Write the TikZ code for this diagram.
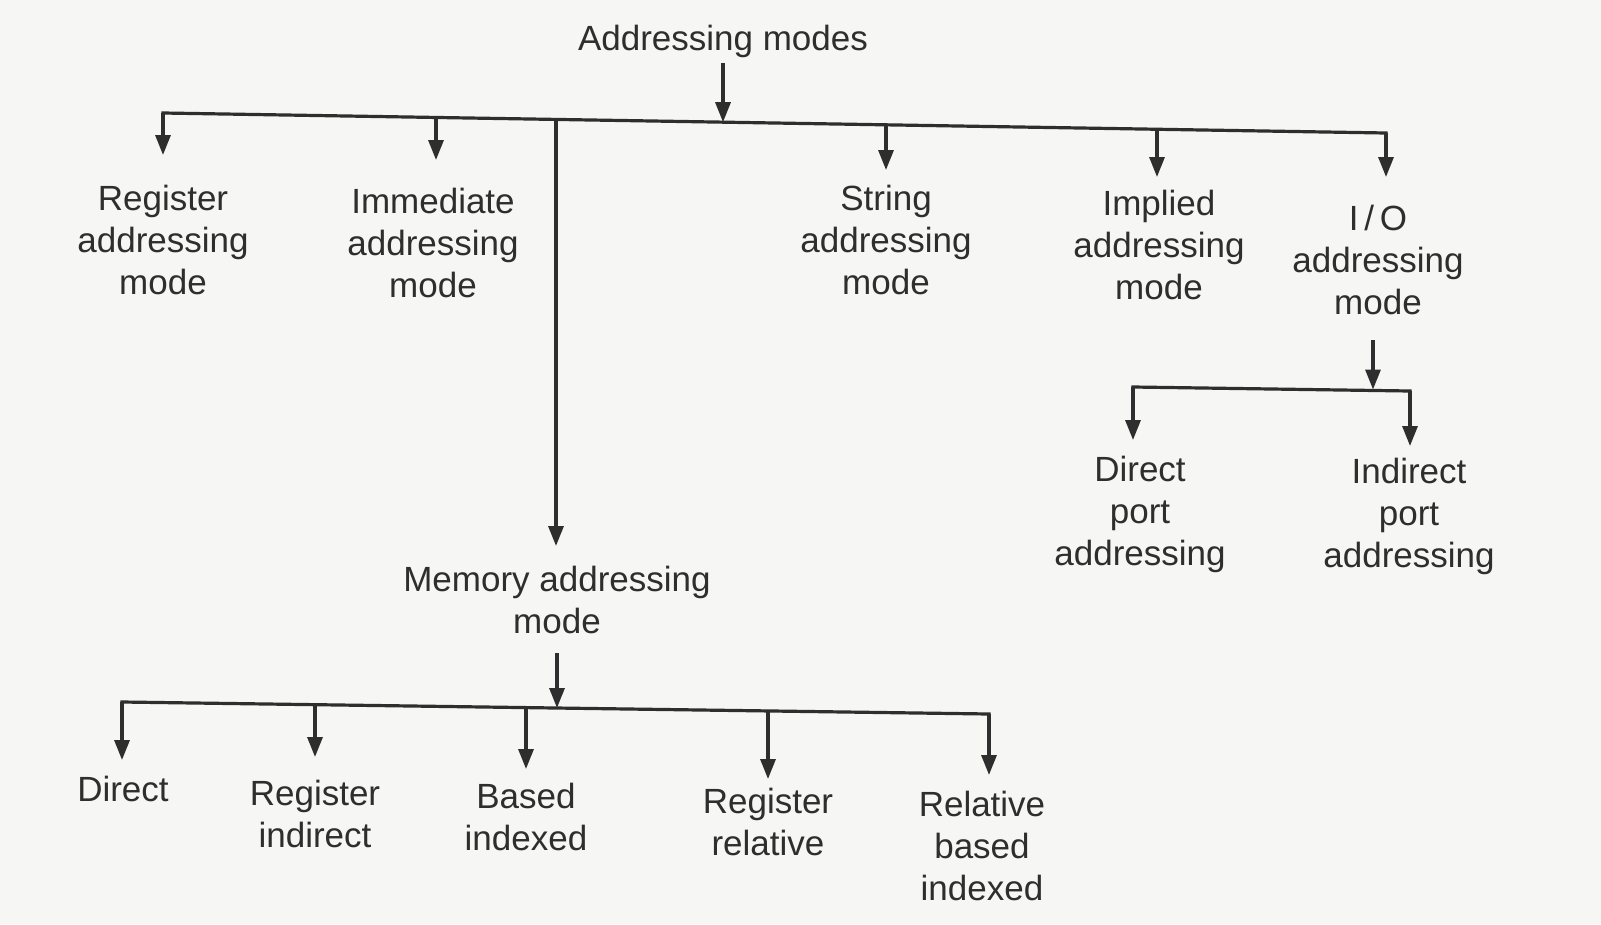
\documentclass[tikz,border=0pt]{standalone}
\usepackage{fontspec}
\setmainfont{Liberation Sans}
\usetikzlibrary{arrows.meta}
\definecolor{paper}{HTML}{F6F6F4}
\definecolor{ink}{HTML}{2E2E2E}
\begin{document}
\begin{tikzpicture}[x=1pt,y=-1pt,
  lbl/.style={align=center,inner sep=0pt,text=ink,font=\fontsize{35}{42}\selectfont},
  conn/.style={draw=ink,line width=3.2pt},
  arr/.style={conn,-{Triangle[length=20pt,width=15pt]}}]
\fill[paper] (0,0) rectangle (1601,924);
\useasboundingbox (0,0) rectangle (1601,924);
% labels
\node[lbl] (root) at (723,41) {Addressing modes};
\node[lbl] (reg) at (163,240) {Register\\addressing\\mode};
\node[lbl] (imm) at (433,243) {Immediate\\addressing\\mode};
\node[lbl] (str) at (886,240) {String\\addressing\\mode};
\node[lbl] (imp) at (1159,245) {Implied\\addressing\\mode};
\node[lbl] (io) at (1378,260) {I\,/\,O\\addressing\\mode};
\node[lbl] (dport) at (1140,514) {Direct\\port\\addressing};
\node[lbl] (iport) at (1409,516) {Indirect\\port\\addressing};
\node[lbl] (mem) at (557,600) {Memory addressing\\mode};
\node[lbl] (dir) at (123,789) {Direct};
\node[lbl] (rind) at (315,814) {Register\\indirect};
\node[lbl] (bidx) at (526,817) {Based\\indexed};
\node[lbl] (rrel) at (768,822) {Register\\relative};
\node[lbl] (rbi) at (982,846) {Relative\\based\\indexed};
% coordinates, main bar
\coordinate (rootS) at (723,63);
\coordinate (rootJ) at (723,122.2);
\coordinate (bL) at (163,113);
\coordinate (bR) at (1386,133);
\coordinate (jImm) at (436,117.5);
\coordinate (jMem) at (556,119.4);
\coordinate (jStr) at (886,124.8);
\coordinate (jImp) at (1157,129.3);
\coordinate (tReg) at (163,155);
\coordinate (tImm) at (436,160);
\coordinate (tMem) at (556,546);
\coordinate (tStr) at (886,170);
\coordinate (tImp) at (1157,177);
\coordinate (tIO) at (1386,177);
% IO sub-tree
\coordinate (ioS) at (1373,340);
\coordinate (ioJ) at (1373,389.5);
\coordinate (sL) at (1133,387);
\coordinate (sR) at (1410,391);
\coordinate (tDp) at (1133,440);
\coordinate (tIp) at (1410,446);
% memory sub-tree
\coordinate (memS) at (557,653);
\coordinate (memJ) at (557,708);
\coordinate (mL) at (122,702);
\coordinate (mR) at (989,714);
\coordinate (jRi) at (315,704.7);
\coordinate (jBi) at (526,707.6);
\coordinate (jRr) at (768,710.9);
\coordinate (tDir) at (122,760);
\coordinate (tRi) at (315,757);
\coordinate (tBi) at (526,769);
\coordinate (tRr) at (768,779);
\coordinate (tRbi) at (989,775);
% connectors
\draw[arr] (rootS) -- (rootJ);
\draw[conn,line join=miter] (tReg) ++(0,-25) -- (bL) -- (bR) -- ++(0,20);
\draw[arr] (bL) -- (tReg);
\draw[arr] (jImm) -- (tImm);
\draw[arr] (jMem) -- (tMem);
\draw[arr] (jStr) -- (tStr);
\draw[arr] (jImp) -- (tImp);
\draw[arr] (bR) -- (tIO);
\draw[arr] (ioS) -- (ioJ);
\draw[conn,line join=miter] (sL) ++(0,20) -- (sL) -- (sR) -- ++(0,20);
\draw[arr] (sL) -- (tDp);
\draw[arr] (sR) -- (tIp);
\draw[arr] (memS) -- (memJ);
\draw[conn,line join=miter] (mL) ++(0,20) -- (mL) -- (mR) -- ++(0,20);
\draw[arr] (mL) -- (tDir);
\draw[arr] (jRi) -- (tRi);
\draw[arr] (jBi) -- (tBi);
\draw[arr] (jRr) -- (tRr);
\draw[arr] (mR) -- (tRbi);
\end{tikzpicture}
\end{document}
